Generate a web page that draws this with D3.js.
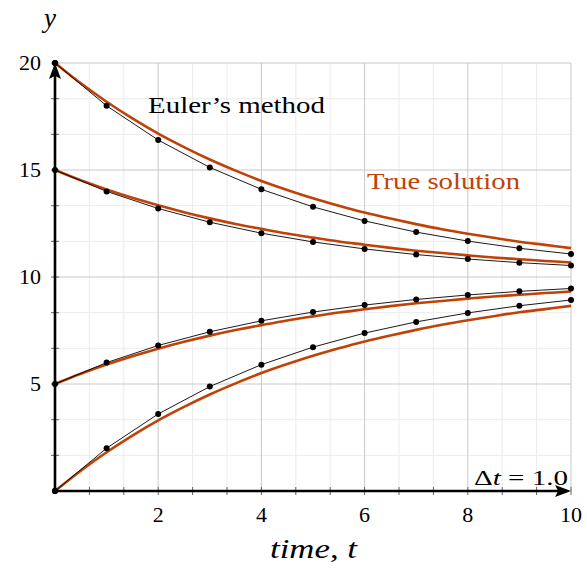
<!DOCTYPE html>
<html><head><meta charset="utf-8">
<script src="https://cdn.jsdelivr.net/npm/d3@7"></script>
<style>body{margin:0;background:#fff}svg{display:block}text{font-family:"Liberation Serif","DejaVu Serif",serif;}</style>
</head><body><svg id="c" width="587" height="569"></svg>
<script>
const stepTimes = [0,1,2,3,4,5,6,7,8,9,10];
const euler20 = [20,18,16.4,15.12,14.096,13.277,12.621,12.097,11.678,11.342,11.074];
const euler15 = [15,14,13.2,12.56,12.048,11.638,11.311,11.049,10.839,10.671,10.537];
const euler5  = [5,6,6.8,7.44,7.952,8.362,8.689,8.951,9.161,9.329,9.463];
const euler0  = [0,2,3.6,4.88,5.904,6.723,7.379,7.903,8.322,8.658,8.926];
const trueTimes = [0,0.5,1,1.5,2,2.5,3,3.5,4,4.5,5,5.5,6,6.5,7,7.5,8,8.5,9,9.5,10];
const true20 = [20,19.05,18.19,17.41,16.70,16.07,15.49,14.97,14.49,14.07,13.68,13.33,13.01,12.73,12.47,12.23,12.02,11.83,11.65,11.50,11.35];
const true15 = [15,14.52,14.09,13.70,13.35,13.03,12.74,12.48,12.25,12.03,11.84,11.66,11.51,11.36,11.23,11.12,11.01,10.91,10.83,10.75,10.68];
const true5  = [5,5.48,5.91,6.30,6.65,6.97,7.26,7.52,7.75,7.97,8.16,8.34,8.49,8.64,8.77,8.88,8.99,9.09,9.17,9.25,9.32];
const true0  = [0,0.95,1.81,2.59,3.30,3.93,4.51,5.03,5.51,5.93,6.32,6.67,6.99,7.27,7.53,7.77,7.98,8.17,8.35,8.50,8.65];
const xTicks = [2,4,6,8,10];
const yTicks = [5,10,15,20];
const xMinor = [0.6667,1.3333,2.6667,3.3333,4.6667,5.3333,6.6667,7.3333,8.6667,9.3333];
const yMinor = [1.6667,3.3333,6.6667,8.3333,11.6667,13.3333,16.6667,18.3333];

const svg = d3.select("#c");
const x = d3.scaleLinear().domain([0,10]).range([55,571]);
const y = d3.scaleLinear().domain([0,20]).range([491,63]);
const orange = "#c04207";

const g = svg.append("g");
g.selectAll(".mx").data(xMinor).enter().append("line")
  .attr("x1",d=>x(d)).attr("x2",d=>x(d)).attr("y1",y(0)).attr("y2",y(20))
  .attr("stroke","#ececec").attr("stroke-width",1);
g.selectAll(".my").data(yMinor).enter().append("line")
  .attr("x1",x(0)).attr("x2",x(10)).attr("y1",d=>y(d)).attr("y2",d=>y(d))
  .attr("stroke","#ececec").attr("stroke-width",1);
g.selectAll(".Mx").data(xTicks).enter().append("line")
  .attr("x1",d=>x(d)).attr("x2",d=>x(d)).attr("y1",y(0)).attr("y2",y(20))
  .attr("stroke","#c8c8c8").attr("stroke-width",1);
g.selectAll(".My").data(yTicks).enter().append("line")
  .attr("x1",x(0)).attr("x2",x(10)).attr("y1",d=>y(d)).attr("y2",d=>y(d))
  .attr("stroke","#c8c8c8").attr("stroke-width",1);

const allX = xMinor.concat(xTicks);
g.selectAll(".tx").data(allX).enter().append("line")
  .attr("x1",d=>x(d)).attr("x2",d=>x(d)).attr("y1",y(0)-4).attr("y2",y(0)+4)
  .attr("stroke","#666").attr("stroke-width",1);
const allY = yMinor.concat(yTicks);
g.selectAll(".ty").data(allY).enter().append("line")
  .attr("x1",x(0)-4).attr("x2",x(0)+4).attr("y1",d=>y(d)).attr("y2",d=>y(d))
  .attr("stroke","#666").attr("stroke-width",1);

svg.selectAll(".xl").data(xTicks).enter().append("text")
  .attr("x",d=>x(d)).attr("y",522).attr("text-anchor","middle")
  .attr("font-size",22).text(d=>d);
svg.selectAll(".yl").data(yTicks).enter().append("text")
  .attr("x",41).attr("y",d=>y(d)+7).attr("text-anchor","end")
  .attr("font-size",22).text(d=>d);

const lineT = d3.line().x((d,i)=>x(trueTimes[i])).y(d=>y(d)).curve(d3.curveCatmullRom);
[true20,true15,true5,true0].forEach(s=>{
  svg.append("path").attr("d",lineT(s)).attr("fill","none")
    .attr("stroke",orange).attr("stroke-width",2.6);
});
const lineE = d3.line().x((d,i)=>x(stepTimes[i])).y(d=>y(d));
[euler20,euler15,euler5,euler0].forEach(s=>{
  svg.append("path").attr("d",lineE(s)).attr("fill","none")
    .attr("stroke","#000").attr("stroke-width",0.9);
  svg.append("g").selectAll("circle").data(s).enter().append("circle")
    .attr("cx",(d,i)=>x(stepTimes[i])).attr("cy",d=>y(d)).attr("r",3).attr("fill","#000");
});

svg.append("defs").append("marker").attr("id","arr")
  .attr("viewBox","0 0 10 10").attr("refX",10).attr("refY",5)
  .attr("markerWidth",16).attr("markerHeight",12).attr("markerUnits","userSpaceOnUse")
  .attr("preserveAspectRatio","none")
  .attr("orient","auto")
  .append("path").attr("d","M0,0 L10,5 L0,10 L2,5 Z").attr("fill","#000");
svg.append("line").attr("x1",x(0)).attr("x2",x(10)-4).attr("y1",y(0)).attr("y2",y(0))
  .attr("stroke","#000").attr("stroke-width",2.6);
svg.append("line").attr("x1",x(0)).attr("x2",x(0)).attr("y1",y(0)).attr("y2",y(20)+4)
  .attr("stroke","#000").attr("stroke-width",2.6);
svg.append("line").attr("x1",x(0)).attr("x2",x(10)).attr("y1",y(0)).attr("y2",y(0))
  .attr("stroke","none").attr("marker-end","url(#arr)");
svg.append("line").attr("x1",x(0)).attr("x2",x(0)).attr("y1",y(0)).attr("y2",y(20))
  .attr("stroke","none").attr("marker-end","url(#arr)");

svg.append("circle").attr("cx",x(0)).attr("cy",y(0)).attr("r",3).attr("fill","#000");
svg.append("circle").attr("cx",x(0)).attr("cy",y(20)).attr("r",3).attr("fill","#000");

svg.append("text").attr("x",44).attr("y",27).attr("font-size",27).attr("font-style","italic").text("y");
svg.append("text").attr("x",148).attr("y",113).attr("font-size",23)
  .attr("textLength",177).attr("lengthAdjust","spacingAndGlyphs").text("Euler’s method");
svg.append("text").attr("x",367).attr("y",189).attr("font-size",23).attr("fill",orange)
  .attr("textLength",153).attr("lengthAdjust","spacingAndGlyphs").text("True solution");
svg.append("text").attr("x",474).attr("y",485).attr("font-size",22)
  .attr("textLength",94).attr("lengthAdjust","spacingAndGlyphs")
  .html('Δ<tspan font-style="italic">t</tspan> = 1.0');
svg.append("text").attr("x",270).attr("y",558).attr("font-size",27)
  .attr("textLength",87).attr("lengthAdjust","spacingAndGlyphs")
  .html('<tspan font-style="italic">time</tspan>, <tspan font-style="italic">t</tspan>');
</script></body></html>
